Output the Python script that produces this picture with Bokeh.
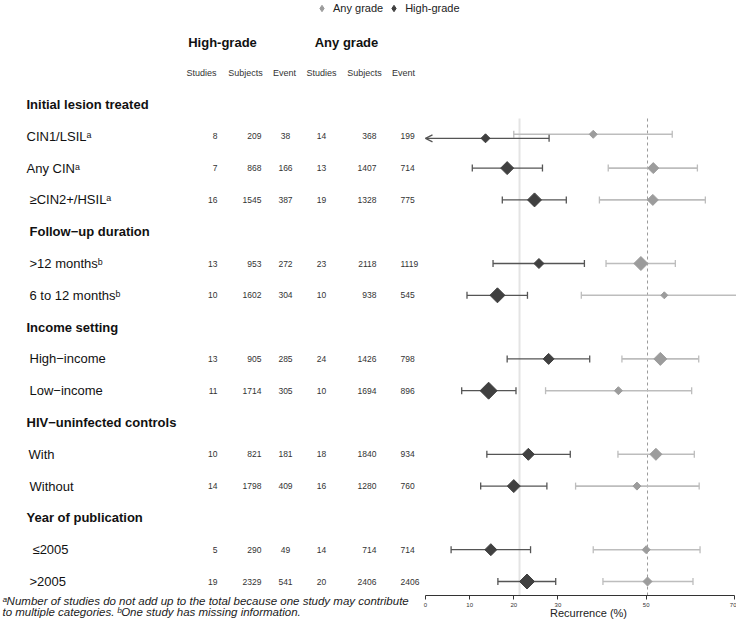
import numpy as np
from bokeh.plotting import figure
from bokeh.models import (Range1d, LinearAxis, FixedTicker, ColumnDataSource, Whisker,
                          TeeHead, OpenHead, Legend, LegendItem)
from bokeh.core.properties import value
from bokeh.embed import file_html
from bokeh.resources import INLINE

# ---------------- data ----------------
sections = ["Initial lesion treated", "Follow\u2212up duration", "Income setting",
            "HIV\u2212uninfected controls", "Year of publication"]
subgroups = [["CIN1/LSIL\u1d43", "Any CIN\u1d43", "\u2265CIN2+/HSIL\u1d43"],
             [">12 months\u1d47", "6 to 12 months\u1d47"],
             ["High\u2212income", "Low\u2212income"],
             ["With", "Without"],
             ["\u22642005", ">2005"]]
hg_studies = [8, 7, 16, 13, 10, 13, 11, 10, 14, 5, 19]
hg_subjects = [209, 868, 1545, 953, 1602, 905, 1714, 821, 1798, 290, 2329]
hg_events = [38, 166, 387, 272, 304, 285, 305, 181, 409, 49, 541]
any_studies = [14, 13, 19, 23, 10, 24, 10, 18, 16, 14, 20]
any_subjects = [368, 1407, 1328, 2118, 938, 1426, 1694, 1840, 1280, 714, 2406]
any_events = [199, 714, 775, 1119, 545, 798, 896, 934, 760, 714, 2406]
hg_est = [13.6, 18.5, 24.7, 25.7, 16.3, 27.9, 14.3, 23.3, 20.0, 14.8, 23.0]
hg_lo = [0.0, 10.6, 17.4, 15.3, 9.4, 18.5, 8.2, 13.9, 12.5, 5.8, 16.4]
hg_hi = [28.0, 26.5, 31.9, 36.0, 23.1, 37.2, 20.5, 32.8, 27.5, 23.8, 29.5]
hg_trunc = [True, False, False, False, False, False, False, False, False, False, False]
any_est = [38.0, 51.6, 51.5, 48.8, 54.1, 53.2, 43.7, 52.2, 47.9, 50.0, 50.3]
any_lo = [20.0, 41.4, 39.4, 40.9, 35.3, 44.5, 27.2, 43.6, 34.0, 38.0, 40.2]
any_hi = [55.9, 61.6, 63.4, 56.6, 73.0, 61.9, 60.3, 60.9, 62.0, 62.2, 60.6]
hg_overall = 21.3
any_overall = 50.3
x_ticks = [0, 10, 20, 30, 50, 70]
x_label = "Recurrence (%)"
col_headers = ["Studies", "Subjects", "Event", "Studies", "Subjects", "Event"]
group_headers = ["High-grade", "Any grade"]
legend_labels = ["Any grade", "High-grade"]
footnote = ["\u1d43Number of studies do not add up to the total because one study may contribute",
            "to multiple categories. \u1d47One study has missing information."]

# ---------------- layout (picture pixel coordinates) ----------------
FONT_NAME = "Liberation Sans"
FONT = value(FONT_NAME)
W, H = 736, 620
Y_AXIS = 595
PCT0, PX_PER_PCT = 425.0, 4.414
FIRST, STEP = 104.0, 31.8
sec_x = [26, 29, 26, 26, 26]
row_x = [26, 26, 29, 29, 29, 29, 29, 28, 29, 32, 29]
hg_box = [9, 13, 14, 10, 15, 11, 17, 12, 13, 12, 15]
any_box = [8, 11, 11, 14, 7, 13, 8, 12, 8, 8, 9]
hg_dy = [2.0] + [0.0] * 10
any_dy = [-2.0] + [0.0] * 10
HG_COL, HG_LINE = "#404040", "#555555"
ANY_COL, ANY_LINE = "#9c9c9c", "#bdbdbd"

sec_y, row_y, row_lab = [], [], []
k = 0
for s, subs in zip(sections, subgroups):
    sec_y.append(FIRST + k * STEP); k += 1
    for sub in subs:
        row_y.append(FIRST + k * STEP); row_lab.append(sub); k += 1

p = figure(width=W, height=H, x_range=Range1d(0, W), y_range=Range1d(H, 0),
           output_backend="svg", toolbar_location=None, x_axis_type=None, y_axis_type=None,
           min_border_left=0, min_border_right=0, min_border_top=0, min_border_bottom=0)
p.outline_line_color = None
p.background_fill_color = "white"
p.border_fill_color = "white"
p.extra_x_ranges = {"pct": Range1d(-PCT0 / PX_PER_PCT, (W - PCT0) / PX_PER_PCT)}

# ---------- table ----------
p.text(x=[222, 346], y=[42, 42], text=group_headers, text_align="center",
       text_baseline="middle", text_font=FONT, text_font_size="13px", text_font_style="bold",
       text_color="#111111")
p.text(x=[201, 245, 284, 321, 364, 403], y=[72] * 6, text=col_headers, text_align="center",
       text_baseline="middle", text_font=FONT, text_font_size="9px", text_color="#333333")
p.text(x=sec_x, y=sec_y, text=sections, text_align="left", text_baseline="middle",
       text_font=FONT, text_font_size="13px", text_font_style="bold", text_color="#111111")
p.text(x=row_x, y=row_y, text=row_lab, text_align="left", text_baseline="middle",
       text_font=FONT, text_font_size="13px", text_color="#111111")
cols = [(hg_studies, 217, "right"), (hg_subjects, 261, "right"), (hg_events, 285, "center"),
        (any_studies, 321, "center"), (any_subjects, 376, "right"), (any_events, 400, "left")]
for vals, cx, al in cols:
    p.text(x=[cx] * len(vals), y=row_y, text=[str(v) for v in vals], text_align=al,
           text_baseline="middle", text_font=FONT, text_font_size="8.5px", text_color="#333333")
p.text(x=[2, 2], y=[600, 611.5], text=footnote, text_align="left", text_baseline="alphabetic",
       text_font=FONT, text_font_size="11.5px", text_font_style="italic", text_color="#222222")

# ---------- forest ----------
p.segment(x0=[hg_overall], x1=[hg_overall], y0=[118], y1=[Y_AXIS], x_range_name="pct",
          line_color="#e4e4e4", line_width=2, level="underlay")
p.segment(x0=[any_overall], x1=[any_overall], y0=[118], y1=[Y_AXIS], x_range_name="pct",
          line_color="#9a9a9a", line_width=1, line_dash="3 3", level="underlay")

ry = np.array(row_y)
hg_y = ry + np.array(hg_dy)
any_y = ry + np.array(any_dy)


def tee(c):
    return TeeHead(size=7, line_color=c, line_width=1.3)


any_src = ColumnDataSource(dict(y=any_y, lo=any_lo, hi=any_hi))
p.add_layout(Whisker(source=any_src, base="y", lower="lo", upper="hi", dimension="width",
                     x_range_name="pct", line_color=ANY_LINE, line_width=1.6, level="underlay",
                     lower_head=tee(ANY_LINE), upper_head=tee(ANY_LINE)))
norm = [i for i, t in enumerate(hg_trunc) if not t]
trunc = [i for i, t in enumerate(hg_trunc) if t]
hg_src = ColumnDataSource(dict(y=hg_y[norm], lo=[hg_lo[i] for i in norm], hi=[hg_hi[i] for i in norm]))
p.add_layout(Whisker(source=hg_src, base="y", lower="lo", upper="hi", dimension="width",
                     x_range_name="pct", line_color=HG_LINE, line_width=1.3, level="underlay",
                     lower_head=tee(HG_LINE), upper_head=tee(HG_LINE)))
hg_tsrc = ColumnDataSource(dict(y=hg_y[trunc], lo=[hg_lo[i] for i in trunc], hi=[hg_hi[i] for i in trunc]))
p.add_layout(Whisker(source=hg_tsrc, base="y", lower="lo", upper="hi", dimension="width",
                     x_range_name="pct", line_color=HG_LINE, line_width=1.3, level="underlay",
                     lower_head=OpenHead(size=7, line_color=HG_LINE, line_width=1.3),
                     upper_head=tee(HG_LINE)))

p.scatter(x=any_est, y=any_y, size=list(np.array(any_box) / np.sqrt(2)), marker="square",
          angle=np.pi / 4, x_range_name="pct", fill_color=ANY_COL, line_color=ANY_COL)
p.scatter(x=hg_est, y=hg_y, size=list(np.array(hg_box) / np.sqrt(2)), marker="square",
          angle=np.pi / 4, x_range_name="pct", fill_color=HG_COL, line_color=HG_COL)

# legend keys (diamond glyphs, drawn only in the legend)
l_any = p.scatter(x=[-1000], y=[-1000], marker="diamond", fill_color=ANY_COL, line_color=ANY_COL)
l_hg = p.scatter(x=[-1000], y=[-1000], marker="diamond", fill_color=HG_COL, line_color=HG_COL)
leg = Legend(items=[LegendItem(label=legend_labels[0], renderers=[l_any], index=0),
                    LegendItem(label=legend_labels[1], renderers=[l_hg], index=0)],
             orientation="horizontal", location=(313, H - 16), padding=0, margin=0,
             glyph_width=17, glyph_height=16, label_standoff=3, spacing=2, label_height=16,
             border_line_alpha=0, background_fill_alpha=0,
             label_text_font=FONT_NAME, label_text_font_size="11px", label_text_color="#222222")
p.add_layout(leg)

# x axis drawn at a fixed position inside the frame
ax = LinearAxis(x_range_name="pct", ticker=FixedTicker(ticks=x_ticks), bounds=(0, 70),
                fixed_location=Y_AXIS)
ax.major_tick_out = 4
ax.major_tick_in = 0
ax.minor_tick_out = 0
ax.minor_tick_in = 0
ax.axis_line_color = "#333333"
ax.major_tick_line_color = "#333333"
ax.major_label_text_font = FONT_NAME
ax.major_label_text_font_size = "6px"
ax.major_label_text_color = "#333333"
ax.major_label_standoff = 3
p.add_layout(ax, "below")
p.text(x=[588], y=[612], text=[x_label], text_align="center", text_baseline="middle",
       text_font=FONT, text_font_size="11px", text_color="#222222")

open("out.html", "w").write(file_html(p, INLINE))
